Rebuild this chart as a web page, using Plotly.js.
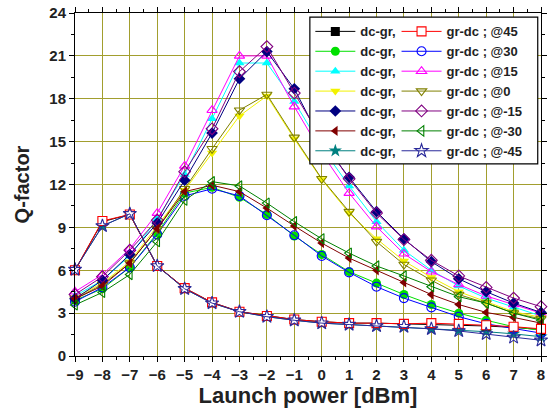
<!DOCTYPE html>
<html>
<head>
<meta charset="utf-8">
<script src="https://cdn.plot.ly/plotly-3.0.1.min.js"></script>
<style>html,body{margin:0;padding:0;background:#fff;}#chart{width:549px;height:413px;}</style>
</head>
<body>
<div id="chart"></div>
<script>
// Launch power [dBm]
const power = [-9,-8,-7,-6,-5,-4,-3,-2,-1,0,1,2,3,4,5,6,7,8];

// Q-factor values, dc-gr direction
const dcgr45  = [6.0,9.4,9.9,6.3,4.75,3.75,3.1,2.8,2.55,2.4,2.3,2.3,2.25,2.25,2.2,2.1,2.0,1.85];
const dcgr30  = [3.9,4.7,6.2,8.6,11.4,11.8,11.1,9.9,8.4,7.1,5.9,5.1,4.3,3.6,3.0,2.5,2.05,1.8];
const dcgr15  = [4.2,5.3,7.0,9.6,12.7,16.6,20.5,20.5,17.8,14.6,11.9,9.4,7.4,6.0,4.9,4.05,3.4,2.8];
const dcgr0   = [4.1,5.1,6.6,9.1,11.6,14.2,16.8,18.2,15.2,12.35,10.0,8.2,6.65,5.5,4.5,3.8,3.1,2.7];
const dcgrm15 = [4.0,5.3,7.1,9.3,12.3,15.6,19.4,21.3,18.7,15.0,12.5,10.1,8.2,6.6,5.4,4.5,3.7,3.05];
const dcgrm30 = [4.0,4.9,6.5,8.9,11.5,11.95,11.5,10.35,9.1,7.9,6.85,6.0,5.15,4.3,3.6,3.05,2.7,2.3];
const dcgrm45 = [6.05,9.1,9.95,6.3,4.7,3.7,3.1,2.75,2.5,2.3,2.2,2.1,2.05,1.9,1.8,1.7,1.55,1.35];

// Q-factor values, gr-dc direction
const grdc45  = [6.0,9.45,9.9,6.3,4.75,3.75,3.1,2.8,2.55,2.4,2.3,2.3,2.25,2.3,2.25,2.15,2.05,1.9];
const grdc30  = [3.8,4.8,6.2,8.5,11.2,11.7,11.2,9.85,8.45,7.0,5.85,4.85,4.05,3.4,2.75,2.25,1.9,1.6];
const grdc15  = [4.5,5.7,7.5,10.0,13.3,17.2,21.0,21.0,17.45,14.2,11.4,9.05,7.15,5.9,5.0,4.2,3.6,3.0];
const grdc0   = [4.0,5.0,6.5,8.9,11.7,14.5,17.2,18.3,15.3,12.4,10.1,8.0,6.4,5.3,4.3,3.7,3.0,2.6];
const grdcm15 = [4.3,5.55,7.4,9.5,12.9,15.9,19.9,21.65,18.4,15.2,12.4,10.0,8.15,6.7,5.6,4.8,4.05,3.45];
const grdcm30 = [3.57,4.45,5.7,8.0,10.9,12.2,11.9,10.7,9.4,8.2,7.2,6.3,5.6,4.85,4.15,3.7,3.0,2.5];
const grdcm45 = [6.05,9.1,9.95,6.3,4.7,3.7,3.1,2.75,2.5,2.3,2.2,2.1,2.05,1.9,1.75,1.55,1.3,1.1];

const angleLabels = ['@45','@30','@15','@0','@-15','@-30','@-45'];
const dcgrNames = ['dc-gr,','dc-gr,','dc-gr,','dc-gr,','dc-gr,','dc-gr,','dc-gr,'];
const grdcNames = angleLabels.map(a => 'gr-dc ; ' + a);

const dcgrData = [dcgr45, dcgr30, dcgr15, dcgr0, dcgrm15, dcgrm30, dcgrm45];
const grdcData = [grdc45, grdc30, grdc15, grdc0, grdcm15, grdcm30, grdcm45];

const dcgrColors = ['#000000','#00e000','#00ffff','#f2f200','#000080','#800000','#008080'];
const grdcColors = ['#ff0000','#0000ff','#ff00ff','#808000','#800080','#008000','#2a2a9a'];
const dcgrSymbols = ['square','circle','triangle-up','triangle-down','diamond','triangle-left','star'];
const grdcSymbols = ['square','circle-open','triangle-up-open','triangle-down-open','diamond-open','triangle-left-open','star-open'];

function makeTrace(y, name, color, symbol, legend, rank, filledWhite) {
  const open = symbol.indexOf('open') >= 0;
  const marker = {symbol: symbol, color: color, size: 9,
                  line: {color: color, width: open ? 1.1 : 0}};
  if (filledWhite) { marker.color = '#ffffff'; marker.line = {color: color, width: 1.1}; }
  if (symbol.indexOf('star') >= 0) marker.size = 10;
  return {x: power, y: y, name: name, type: 'scatter', mode: 'lines+markers',
          line: {color: color, width: 1}, marker: marker, legend: legend, legendrank: rank,
          cliponaxis: false};
}

const traces = [];
// the dc-gr @45 / @-45 curves lie under the gr-dc ones, so draw them first
traces.push(makeTrace(dcgrData[6], dcgrNames[6], dcgrColors[6], dcgrSymbols[6], 'legend', 7));
traces.push(makeTrace(dcgrData[0], dcgrNames[0], dcgrColors[0], dcgrSymbols[0], 'legend', 1));
for (let i = 1; i < 6; i++) {
  traces.push(makeTrace(dcgrData[i], dcgrNames[i], dcgrColors[i], dcgrSymbols[i], 'legend', i + 1));
  traces.push(makeTrace(grdcData[i], grdcNames[i], grdcColors[i], grdcSymbols[i], 'legend2', i + 1));
}
traces.push(makeTrace(grdcData[0], grdcNames[0], grdcColors[0], grdcSymbols[0], 'legend2', 1, true));
traces.push(makeTrace(grdcData[6], grdcNames[6], grdcColors[6], grdcSymbols[6], 'legend2', 7));

const fontFam = 'Arial, "Liberation Sans", sans-serif';
const gridCol = '#a29e2e';

const legendCommon = {
  bgcolor: 'rgba(0,0,0,0)', borderwidth: 0, yanchor: 'top', xanchor: 'left',
  font: {family: fontFam, size: 13, color: '#222', weight: 'bold'},
  itemwidth: 40, tracegroupgap: 0
};

const layout = {
  width: 549, height: 413,
  margin: {l: 75, r: 8, t: 13, b: 57},
  paper_bgcolor: '#ffffff', plot_bgcolor: '#ffffff',
  font: {family: fontFam, color: '#222'},
  showlegend: true,
  legend: Object.assign({}, legendCommon, {x: 0.505, y: 0.99}),
  legend2: Object.assign({}, legendCommon, {x: 0.69, y: 0.99}),
  shapes: [{type: 'rect', xref: 'paper', yref: 'paper', x0: 0.504, x1: 0.993, y0: 0.56, y1: 0.988,
            line: {color: '#000', width: 1.2}, fillcolor: '#ffffff', layer: 'above'}],
  xaxis: {
    range: [-9, 8], tick0: -9, dtick: 1, showgrid: true, gridcolor: gridCol, gridwidth: 1,
    zeroline: false, showline: true, linecolor: '#000', linewidth: 1, mirror: 'ticks',
    ticks: 'outside', ticklen: 5, tickcolor: '#000',
    tickfont: {family: fontFam, size: 15, color: '#222', weight: 'bold'},
    minor: {dtick: 0.5, ticks: 'outside', ticklen: 3, tickcolor: '#000', showgrid: false},
    title: {text: 'Launch power [dBm]', font: {family: fontFam, size: 22, color: '#222', weight: 'bold'}, standoff: 4}
  },
  yaxis: {
    range: [0, 24], tick0: 0, dtick: 3, showgrid: true, gridcolor: gridCol, gridwidth: 1,
    zeroline: false, showline: true, linecolor: '#000', linewidth: 1, mirror: 'ticks',
    ticks: 'outside', ticklen: 5, tickcolor: '#000',
    tickfont: {family: fontFam, size: 15, color: '#222', weight: 'bold'},
    minor: {dtick: 1.5, ticks: 'outside', ticklen: 3, tickcolor: '#000', showgrid: false},
    title: {text: 'Q-factor', font: {family: fontFam, size: 20, color: '#222', weight: 'bold'}, standoff: 14}
  }
};

Plotly.newPlot('chart', traces, layout, {staticPlot: true, displayModeBar: false});
</script>
</body>
</html>
